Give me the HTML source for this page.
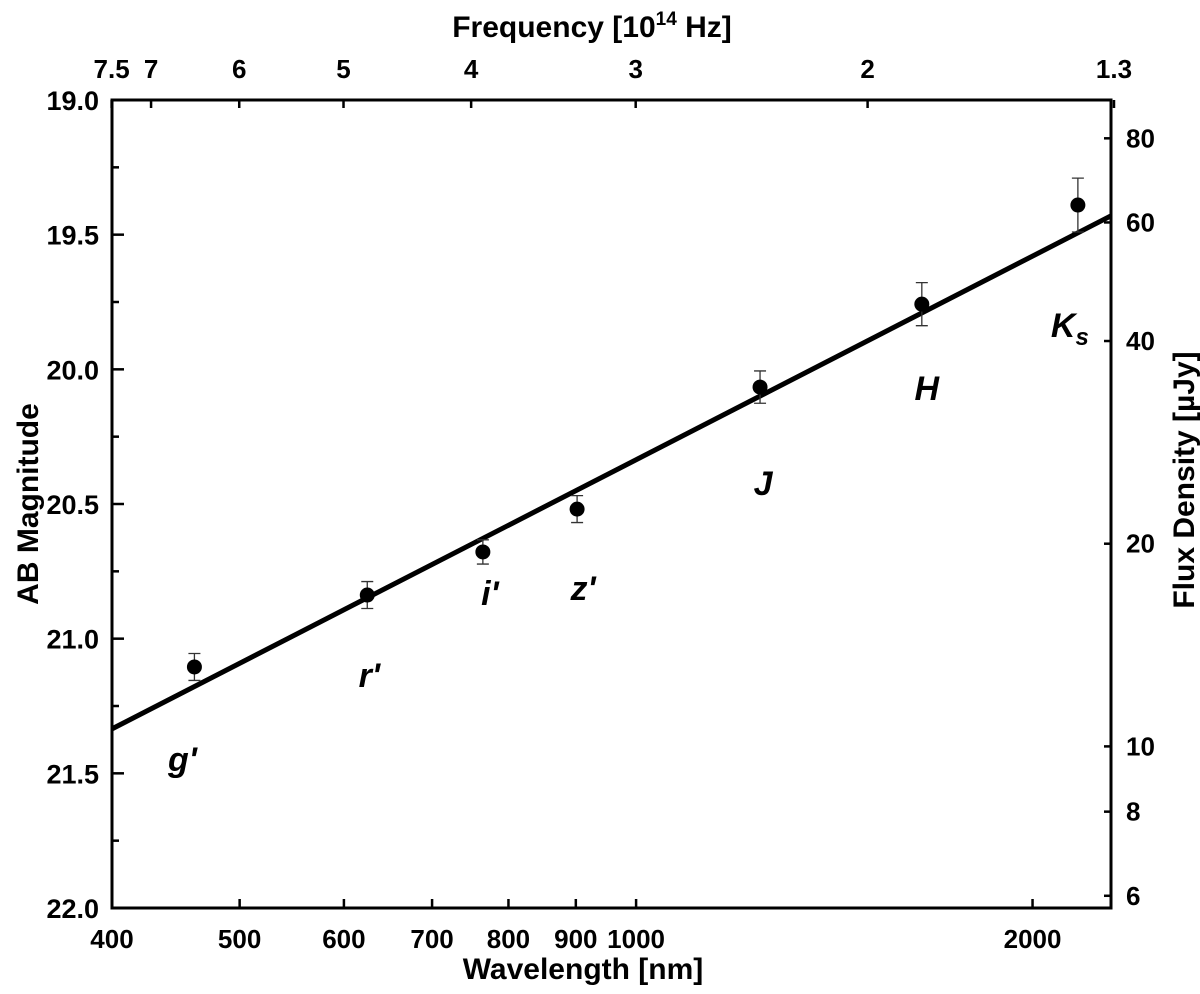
<!DOCTYPE html>
<html><head><meta charset="utf-8"><style>
body{margin:0;background:#fff}
svg text{font-family:"Liberation Sans",Arial,sans-serif;font-weight:bold;fill:#000}
</style></head><body>
<svg width="1200" height="989" xmlns="http://www.w3.org/2000/svg" id="chart">
</svg>
<script>
const bands=["g'","r'","i'","z'","J","H","Ks"];
const wavelengths=[462,625,765,902,1242,1648,2165];
const magnitudes=[21.105,20.838,20.678,20.519,20.066,19.758,19.39];
const errors=[0.05,0.05,0.045,0.05,0.06,0.08,0.1];
const fitMagAt400=21.335;
const fitSlope=-2.512;
const xTicks=[400,500,600,700,800,900,1000,2000];
const yTicks=[19.0,19.5,20.0,20.5,21.0,21.5,22.0];
const yMinor=[19.25,19.75,20.25,20.75,21.25,21.75];
const freqTicks=[7.5,7,6,5,4,3,2,1.3];
const fluxTicks=[6,8,10,20,40,60,80];

const L=112,R=1111,T=100,B=908;
const pxDec=1317;
const X=l=>L+pxDec*Math.log10(l/400);
const Y=m=>T+(m-19)*(B-T)/3;
const svg=document.getElementById('chart');
const NS='http://www.w3.org/2000/svg';
function mk(tag,attrs,txt){const e=document.createElementNS(NS,tag);for(const k in attrs)e.setAttribute(k,attrs[k]);if(txt!==undefined)e.textContent=txt;svg.appendChild(e);return e;}

let e=mk('rect',{x:L,y:T,width:R-L,height:B-T,fill:'none',stroke:'#000','stroke-width':3});



xTicks.forEach(v=>{const x=X(v);
 e=mk('line',{x1:x,x2:x,y1:B,y2:B-9,stroke:'#000','stroke-width':2.5});
 
 
 e=mk('text',{x:x,y:B+40,'font-size':26,'text-anchor':'middle'},v);
 
 
});
yTicks.forEach(v=>{const y=Y(v);
 e=mk('line',{x1:L,x2:L+12,y1:y,y2:y,stroke:'#000','stroke-width':2.5});
 
 
 e=mk('text',{x:L-13,y:y+10,'font-size':27,'text-anchor':'end'},v.toFixed(1));
 
 
});
yMinor.forEach(v=>{const y=Y(v);
 e=mk('line',{x1:L,x2:L+7,y1:y,y2:y,stroke:'#000','stroke-width':2.5});
 
 
});
freqTicks.forEach(v=>{const x=X(2997.9/v);
 e=mk('line',{x1:x,x2:x,y1:T,y2:T+8,stroke:'#000','stroke-width':2.5});
 
 
 e=mk('text',{x:x,y:T-22,'font-size':26,'text-anchor':'middle'},v);
 
 
});
fluxTicks.forEach(v=>{const y=Y(23.9-2.5*Math.log10(v));
 e=mk('line',{x1:R,x2:R-7,y1:y,y2:y,stroke:'#000','stroke-width':2.5});
 
 
 e=mk('text',{x:R+15,y:y+9,'font-size':26},v);
 
 
});

e=mk('line',{x1:L,y1:Y(fitMagAt400),x2:R,y2:Y(fitMagAt400+fitSlope*Math.log10(2293/400)),stroke:'#000','stroke-width':5});



const labOff=[[-12,104],[2,92],[7,53],[6,91],[3,108],[5,96],[-8,132]];
bands.forEach((b,i)=>{const x=X(wavelengths[i]),y=Y(magnitudes[i]),ey=errors[i]*(B-T)/3;
 e=mk('path',{d:`M${x},${y-ey}V${y+ey}M${x-6},${y-ey}H${x+6}M${x-6},${y+ey}H${x+6}`,stroke:'#333','stroke-width':1.3,fill:'none'});
 
 
 e=mk('circle',{cx:x,cy:y,r:7.5,fill:'#000'});
 
 
 const lx=x+labOff[i][0],ly=y+labOff[i][1];
 if(b==='Ks'){
  e=mk('text',{x:lx,y:ly,'font-size':34,'font-style':'italic','text-anchor':'middle'});
  e.innerHTML='K<tspan font-size="24" dy="8">s</tspan>';
 } else {
  e=mk('text',{x:lx,y:ly,'font-size':34,'font-style':'italic','text-anchor':'middle'},b);
 }
 
 
});

e=mk('text',{x:583,y:979,'font-size':30,'text-anchor':'middle'},'Wavelength [nm]');


e=mk('text',{x:592,y:37,'font-size':30,'text-anchor':'middle'});
e.innerHTML='Frequency [10<tspan font-size="19" dy="-12">14</tspan><tspan dy="12"> Hz]</tspan>';


e=mk('text',{x:0,y:0,'font-size':30,'text-anchor':'middle',transform:'translate(38,504) rotate(-90)'},'AB Magnitude');


e=mk('text',{x:0,y:0,'font-size':30,'text-anchor':'middle',transform:'translate(1194,480) rotate(-90)'},'Flux Density [\u00b5Jy]');


</script>
</body></html>
